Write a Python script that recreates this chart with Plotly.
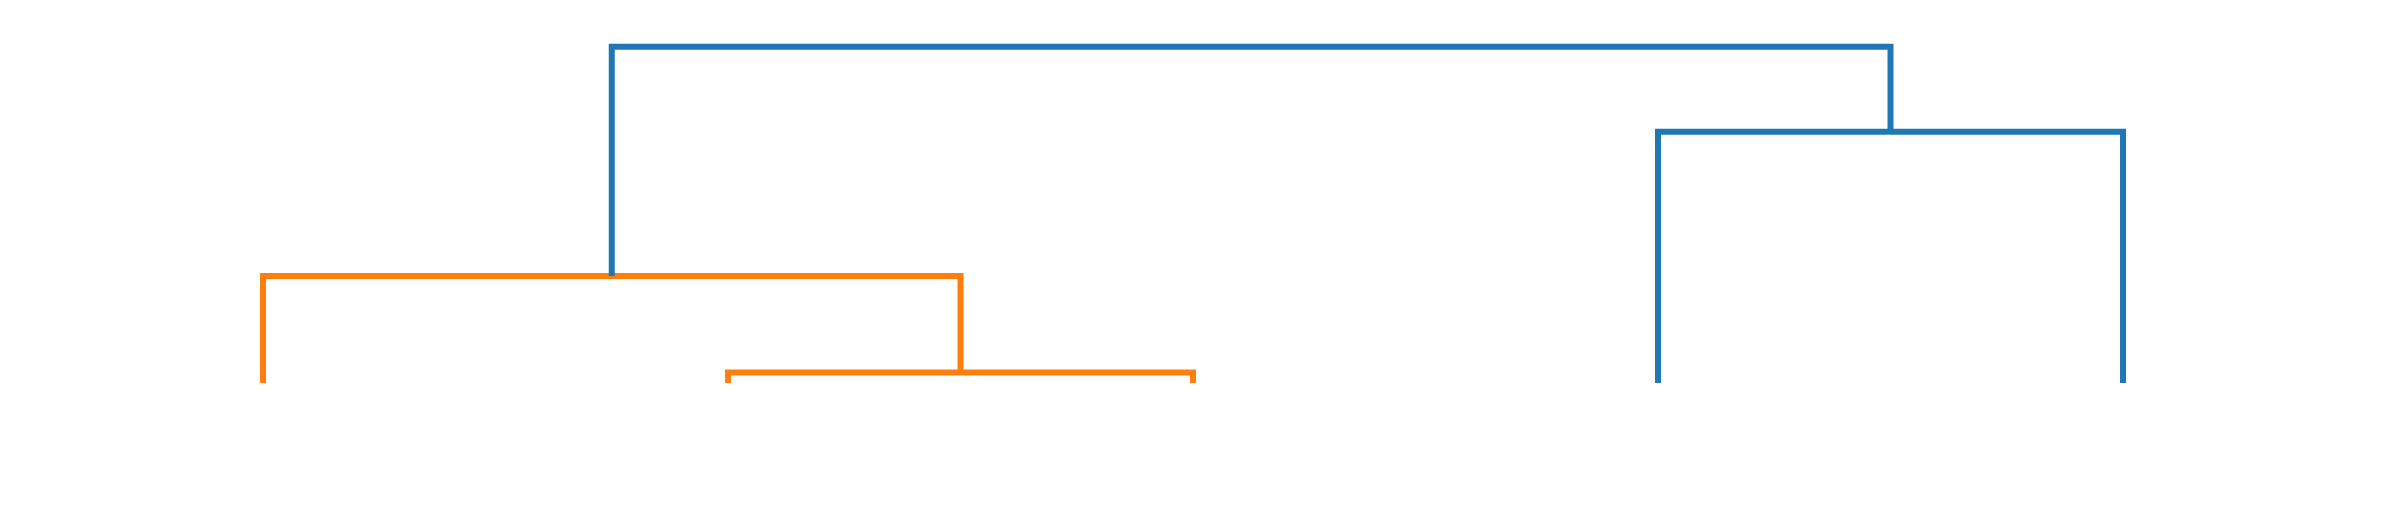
import plotly.graph_objects as go

# leaves in dendrogram order, and the merges (left child, right child, height)
leaves = ["a", "b", "c", "d", "e"]
merges = [
    (1, 2, 0.31),
    (0, 5, 3.18),
    (3, 4, 7.47),
    (6, 7, 10.0),
]
color_threshold = 0.7 * max(m[2] for m in merges)
below_color = "#ff7f0e"
above_color = "#1f77b4"

# x position and height of every node (leaves first, then merges)
node_x = [5 + 10 * i for i in range(len(leaves))]
node_h = [0.0] * len(leaves)

fig = go.Figure()
for left, right, h in merges:
    xl, xr = node_x[left], node_x[right]
    color = below_color if h < color_threshold else above_color
    fig.add_trace(go.Scatter(
        x=[xl, xl, xr, xr],
        y=[node_h[left], h, h, node_h[right]],
        mode="lines",
        line=dict(color=color, width=6),
        hoverinfo="skip",
        showlegend=False,
    ))
    node_x.append((xl + xr) / 2)
    node_h.append(h)

fig.update_layout(
    width=2385, height=522,
    margin=dict(l=0, r=0, t=0, b=0),
    plot_bgcolor="white", paper_bgcolor="white",
    xaxis=dict(range=[-0.484, 50.806], visible=False),
    yaxis=dict(range=[-4.371, 11.151], visible=False),
)

fig.write_html("out.html")
